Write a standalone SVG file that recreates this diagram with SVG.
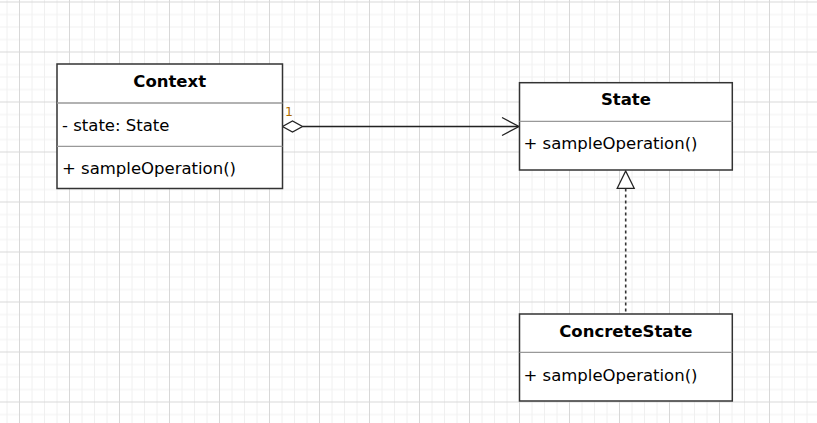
<svg xmlns="http://www.w3.org/2000/svg" width="817" height="423" viewBox="0 0 817 423">
<defs>
<pattern id="grid" patternUnits="userSpaceOnUse" x="19" y="1.5" width="50" height="50">
<path d="M13 0V50M25.5 0V50M38 0V50M0 13H50M0 25.5H50M0 38H50" stroke="#f0f0f0" stroke-width="1" fill="none"/>
<path d="M0.5 0V50M0 0.5H50" stroke="#d8d8d8" stroke-width="1" fill="none"/>
</pattern>
<style>
.box{fill:#fff;stroke:#333;stroke-width:1.5}
.div{stroke:#999;stroke-width:1.3;fill:none}
.t{font-family:"DejaVu Sans","Noto Sans",sans-serif;font-size:16.5px;fill:#000}
.b{font-weight:bold;text-anchor:middle}
.edge{stroke:#222;stroke-width:1.3;fill:none}
</style>
</defs>
<rect width="817" height="423" fill="#fff"/>
<rect width="817" height="423" fill="url(#grid)"/>
<g id="connectors">
<path class="edge" d="M302.5 126.5H518"/>
<path class="edge" d="M502 117.5L519 126.5L502 135.5"/>
<path class="edge" d="M282.5 126.5L292.5 121L302.5 126.5L292.5 132Z" style="fill:#fff"/>
<text x="285" y="116" style="font-family:'DejaVu Sans',sans-serif;font-size:12.5px;fill:#b06c00">1</text>
<path class="edge" d="M625.7 188.5V314" stroke-dasharray="3,3" style="stroke:#333;stroke-width:1.6"/>
<path class="edge" d="M625.7 171L634.2 188.3H617.2Z" style="fill:#fff"/>
</g>
<g id="context">
<rect class="box" x="57" y="64" width="225.5" height="124.5"/>
<path class="div" d="M57 103H282.5M57 146.3H282.5"/>
<text class="t b" x="169.7" y="87">Context</text>
<text class="t" x="62" y="131">- state: State</text>
<text class="t" x="62" y="174">+ sampleOperation()</text>
</g>
<g id="state">
<rect class="box" x="519.5" y="82.7" width="212.8" height="87.3"/>
<path class="div" d="M519.5 121.3H732.3"/>
<text class="t b" x="625.9" y="105">State</text>
<text class="t" x="523.5" y="149">+ sampleOperation()</text>
</g>
<g id="concretestate">
<rect class="box" x="519.5" y="314" width="212.8" height="87"/>
<path class="div" d="M519.5 352.3H732.3"/>
<text class="t b" x="625.9" y="336.5">ConcreteState</text>
<text class="t" x="523.5" y="380.5">+ sampleOperation()</text>
</g>
</svg>
